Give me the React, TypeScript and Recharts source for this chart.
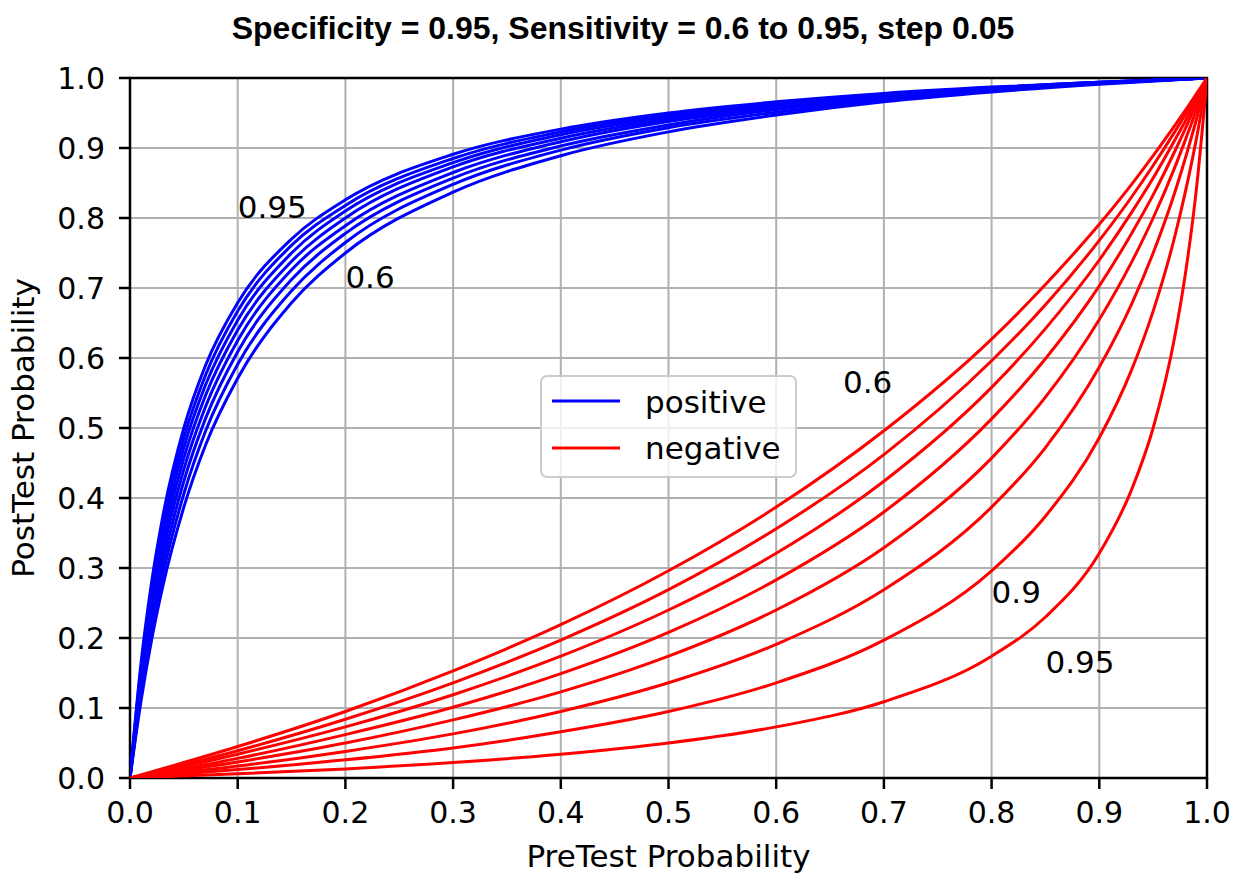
import React from 'react';
import {
  LineChart,
  Line,
  XAxis,
  YAxis,
  CartesianGrid,
  ReferenceArea,
  ReferenceDot,
  Legend,
} from 'recharts';

// specificity fixed at 0.95, sensitivity 0.6 .. 0.95
const sensKeys = ['s60', 's65', 's70', 's75', 's80', 's85', 's90', 's95'];
const axisTicks = [0, 0.1, 0.2, 0.3, 0.4, 0.5, 0.6, 0.7, 0.8, 0.9, 1.0];

// post-test probability after a positive test
const pretestPos = [0, 0.01, 0.02, 0.03, 0.05, 0.07, 0.1, 0.15, 0.2, 0.3, 0.4, 0.5, 0.6, 0.7, 0.8, 0.9, 1];
const pos60 = [0, 0.108, 0.197, 0.271, 0.387, 0.475, 0.571, 0.679, 0.75, 0.837, 0.889, 0.923, 0.947, 0.966, 0.98, 0.991, 1];
const pos65 = [0, 0.116, 0.21, 0.287, 0.406, 0.495, 0.591, 0.696, 0.765, 0.848, 0.897, 0.929, 0.951, 0.968, 0.981, 0.992, 1];
const pos70 = [0, 0.124, 0.222, 0.302, 0.424, 0.513, 0.609, 0.712, 0.778, 0.857, 0.903, 0.933, 0.955, 0.97, 0.983, 0.992, 1];
const pos75 = [0, 0.132, 0.234, 0.317, 0.441, 0.53, 0.625, 0.726, 0.789, 0.865, 0.909, 0.938, 0.957, 0.972, 0.984, 0.993, 1];
const pos80 = [0, 0.139, 0.246, 0.331, 0.457, 0.546, 0.64, 0.738, 0.8, 0.873, 0.914, 0.941, 0.96, 0.974, 0.985, 0.993, 1];
const pos85 = [0, 0.147, 0.258, 0.345, 0.472, 0.561, 0.654, 0.75, 0.81, 0.879, 0.919, 0.944, 0.962, 0.975, 0.986, 0.994, 1];
const pos90 = [0, 0.154, 0.269, 0.358, 0.486, 0.575, 0.667, 0.761, 0.818, 0.885, 0.923, 0.947, 0.964, 0.977, 0.986, 0.994, 1];
const pos95 = [0, 0.161, 0.279, 0.37, 0.5, 0.589, 0.679, 0.77, 0.826, 0.891, 0.927, 0.95, 0.966, 0.978, 0.987, 0.994, 1];

// post-test probability after a negative test
const pretestNeg = [0, 0.1, 0.2, 0.3, 0.4, 0.5, 0.6, 0.7, 0.8, 0.85, 0.9, 0.93, 0.95, 0.97, 0.98, 0.99, 1];
const neg60 = [0, 0.045, 0.095, 0.153, 0.219, 0.296, 0.387, 0.496, 0.627, 0.705, 0.791, 0.848, 0.889, 0.932, 0.954, 0.977, 1];
const neg65 = [0, 0.039, 0.084, 0.136, 0.197, 0.269, 0.356, 0.462, 0.596, 0.676, 0.768, 0.83, 0.875, 0.923, 0.948, 0.973, 1];
const neg70 = [0, 0.034, 0.073, 0.119, 0.174, 0.24, 0.321, 0.424, 0.558, 0.642, 0.74, 0.808, 0.857, 0.911, 0.939, 0.969, 1];
const neg75 = [0, 0.028, 0.062, 0.101, 0.149, 0.208, 0.283, 0.38, 0.513, 0.599, 0.703, 0.778, 0.833, 0.895, 0.928, 0.963, 1];
const neg80 = [0, 0.023, 0.05, 0.083, 0.123, 0.174, 0.24, 0.329, 0.457, 0.544, 0.655, 0.737, 0.8, 0.872, 0.912, 0.954, 1];
const neg85 = [0, 0.017, 0.038, 0.063, 0.095, 0.136, 0.191, 0.269, 0.387, 0.472, 0.587, 0.677, 0.75, 0.836, 0.886, 0.94, 1];
const neg90 = [0, 0.012, 0.026, 0.043, 0.066, 0.095, 0.136, 0.197, 0.296, 0.374, 0.486, 0.583, 0.667, 0.773, 0.838, 0.912, 1];
const neg95 = [0, 0.006, 0.013, 0.022, 0.034, 0.05, 0.073, 0.109, 0.174, 0.23, 0.321, 0.412, 0.5, 0.63, 0.721, 0.839, 1];

// curve labels: [x, y, text]
const annotations: [number, number, string][] = [
  [0.1, 0.8, '0.95'],
  [0.2, 0.7, '0.6'],
  [0.662, 0.55, '0.6'],
  [0.8, 0.25, '0.9'],
  [0.85, 0.15, '0.95'],
];

const posSeries = [pos60, pos65, pos70, pos75, pos80, pos85, pos90, pos95];
const negSeries = [neg60, neg65, neg70, neg75, neg80, neg85, neg90, neg95];

const buildRows = (xs: number[], series: number[][]) =>
  xs.map((x, i) => {
    const row: Record<string, number> = { x };
    sensKeys.forEach((k, j) => (row[k] = series[j][i]));
    return row;
  });

const posData = buildRows(pretestPos, posSeries);
const negData = buildRows(pretestNeg, negSeries);

const FONT = '"DejaVu Sans", sans-serif';
const tickStyle = { fill: '#000', fontSize: 30, fontFamily: FONT };

const LegendBox = () => (
  <svg width={258} height={104} style={{ display: 'block' }}>
    <rect x={1} y={1} width={255} height={101} rx={6} fill="rgba(255,255,255,0.8)" stroke="#cccccc" strokeWidth={2} />
    <line x1={12} x2={80} y1={26} y2={26} stroke="#0000ff" strokeWidth={3} />
    <text x={105} y={38} fontSize={31} fontFamily={FONT} fill="#000">positive</text>
    <line x1={12} x2={80} y1={73} y2={73} stroke="#ff0000" strokeWidth={3} />
    <text x={105} y={84} fontSize={31} fontFamily={FONT} fill="#000">negative</text>
  </svg>
);

export default function App() {
  return (
    <div style={{ position: 'absolute', left: 0, top: 0, width: 1240, height: 874, background: '#fff' }}>
      <div
        style={{
          position: 'absolute',
          left: 0,
          top: 12,
          width: 1246,
          textAlign: 'center',
          fontFamily: '"Liberation Sans", Arial, sans-serif',
          fontWeight: 'bold',
          fontSize: 32,
          lineHeight: '32px',
          color: '#000',
        }}
      >
        Specificity = 0.95, Sensitivity = 0.6 to 0.95, step 0.05
      </div>
      <LineChart width={1240} height={874} margin={{ top: 78, right: 33, bottom: 0, left: 0 }}>
        <CartesianGrid stroke="#b0b0b0" strokeWidth={2} />
        <XAxis
          dataKey="x"
          type="number"
          domain={[0, 1]}
          ticks={axisTicks}
          tickFormatter={(v: number) => v.toFixed(1)}
          height={96}
          tick={tickStyle}
          tickSize={11}
          tickMargin={13}
          tickLine={{ stroke: '#000', strokeWidth: 2.5 }}
          axisLine={false}
          allowDataOverflow
          label={{
            value: 'PreTest Probability',
            position: 'insideBottom',
            offset: 7,
            style: { fontSize: 31, fontFamily: FONT, fill: '#000' },
          }}
        />
        <YAxis
          type="number"
          domain={[0, 1]}
          ticks={axisTicks}
          tickFormatter={(v: number) => v.toFixed(1)}
          width={130}
          tick={tickStyle}
          tickSize={11}
          tickMargin={14}
          tickLine={{ stroke: '#000', strokeWidth: 2.5 }}
          axisLine={false}
          allowDataOverflow
          label={{
            value: 'PostTest Probability',
            angle: -90,
            position: 'insideLeft',
            offset: 23,
            style: { fontSize: 31, fontFamily: FONT, fill: '#000', textAnchor: 'middle' },
          }}
        />
        {sensKeys.map((k) => (
          <Line
            key={'pos' + k}
            data={posData}
            dataKey={k}
            type="monotone"
            stroke="#0000ff"
            strokeWidth={3}
            dot={false}
            activeDot={false}
            isAnimationActive={false}
            legendType="none"
          />
        ))}
        {sensKeys.map((k) => (
          <Line
            key={'neg' + k}
            data={negData}
            dataKey={k}
            type="monotone"
            stroke="#ff0000"
            strokeWidth={3}
            dot={false}
            activeDot={false}
            isAnimationActive={false}
            legendType="none"
          />
        ))}
        <ReferenceArea x1={0} x2={1} y1={0} y2={1} fill="none" fillOpacity={0} stroke="#000" strokeWidth={2.5} ifOverflow="visible" />
        {annotations.map(([x, y, t], i) => (
          <ReferenceDot
            key={'ann' + i}
            x={x}
            y={y}
            r={0}
            ifOverflow="visible"
            shape={(p: any) => (
              <text x={p.cx} y={p.cy} fontSize={31} fontFamily={FONT} fill="#000">
                {t}
              </text>
            )}
          />
        ))}
        <Legend
          layout="vertical"
          align="center"
          verticalAlign="middle"
          content={() => <LegendBox />}
          wrapperStyle={{ left: 540, top: 375, width: 258, height: 104 }}
        />
      </LineChart>
    </div>
  );
}
